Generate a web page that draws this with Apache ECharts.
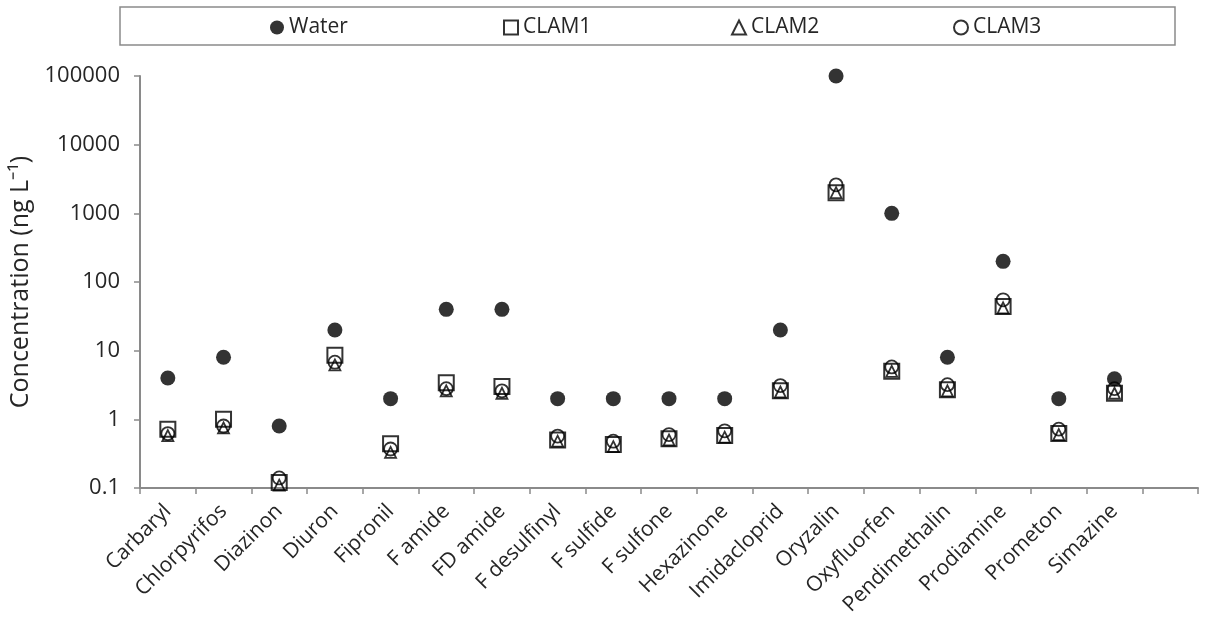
<!DOCTYPE html>
<html>
<head>
<meta charset="utf-8">
<script src="https://cdn.jsdelivr.net/npm/echarts@6/dist/echarts.min.js"></script>
<style>html,body{margin:0;padding:0;background:#fff}#c{width:1207px;height:628px}</style>
</head>
<body>
<div id="c"></div>
<script>
const categories = ['Carbaryl','Chlorpyrifos','Diazinon','Diuron','Fipronil','F amide','FD amide','F desulfinyl','F sulfide','F sulfone','Hexazinone','Imidacloprid','Oryzalin','Oxyfluorfen','Pendimethalin','Prodiamine','Prometon','Simazine',''];
const water = [4, 8, 0.8, 20, 2, 40, 40, 2, 2, 2, 2, 20, 100000, 1000, 8, 200, 2, 3.9];
const clam1 = [0.72, 1.0, 0.12, 8.6, 0.44, 3.4, 3.0, 0.5, 0.43, 0.52, 0.58, 2.6, 2000, 5.0, 2.7, 44, 0.62, 2.4];
const clam2 = [0.58, 0.75, 0.11, 6.2, 0.33, 2.6, 2.4, 0.48, 0.4, 0.5, 0.55, 2.5, 2000, 5.0, 2.6, 42, 0.6, 2.4];
const clam3 = [0.62, 0.8, 0.14, 6.8, 0.37, 2.8, 2.6, 0.57, 0.48, 0.6, 0.68, 3.1, 2600, 5.8, 3.2, 55, 0.72, 2.8];
const yTicks = [0.1, 1, 10, 100, 1000, 10000, 100000];
const seriesNames = ['Water', 'CLAM1', 'CLAM2', 'CLAM3'];

const font = 'Open Sans';
const textColor = '#262626';
const axisColor = '#8a8a8a';
const legendLefts = [265, 498, 726, 948];

const chart = echarts.init(document.getElementById('c'));
chart.setOption({
  animation: false,
  backgroundColor: '#fff',
  textStyle: { fontFamily: font },
  graphic: [{
    type: 'rect',
    shape: { x: 120, y: 7, width: 1055, height: 38 },
    style: { fill: '#fff', stroke: '#8a8a8a', lineWidth: 1.5 },
    z: 0
  }],
  legend: seriesNames.map((n, i) => ({
    top: 12,
    left: legendLefts[i],
    itemWidth: 14,
    itemHeight: 14,
    itemGap: 5,
    textStyle: { fontFamily: font, fontSize: 21, color: textColor },
    data: [n],
    z: 5
  })),
  grid: { left: 140, right: 9, top: 76, bottom: 140 },
  xAxis: {
    type: 'category',
    data: categories,
    boundaryGap: true,
    axisLine: { lineStyle: { color: axisColor, width: 2 } },
    axisTick: { show: true, alignWithLabel: false, length: 6, lineStyle: { color: axisColor, width: 1.5 } },
    axisLabel: { rotate: 45, interval: 0, fontFamily: font, fontSize: 21, color: textColor, margin: 20 },
    splitLine: { show: false }
  },
  yAxis: {
    type: 'log',
    logBase: 10,
    min: 0.1,
    max: 100000,
    name: 'Concentration (ng L⁻¹)',
    nameLocation: 'middle',
    nameGap: 93,
    nameTextStyle: { fontFamily: font, fontSize: 25, color: textColor },
    axisLine: { show: true, lineStyle: { color: axisColor, width: 2 } },
    axisTick: { show: true, length: 6, lineStyle: { color: axisColor, width: 1.5 } },
    axisLabel: {
      fontFamily: font, fontSize: 22, color: textColor, margin: 20,
      formatter: v => {
        let best = yTicks.reduce((a, b) => Math.abs(Math.log10(b) - Math.log10(v)) < Math.abs(Math.log10(a) - Math.log10(v)) ? b : a);
        return String(best);
      }
    },
    splitLine: { show: false }
  },
  series: [
    { name: 'Water', type: 'scatter', data: water, symbol: 'circle', symbolSize: 15,
      itemStyle: { color: '#000' }, z: 2 },
    { name: 'CLAM1', type: 'scatter', data: clam1, symbol: 'rect', symbolSize: 15,
      itemStyle: { color: 'rgba(255,255,255,0)', borderColor: '#000', borderWidth: 2 }, z: 3 },
    { name: 'CLAM2', type: 'scatter', data: clam2, symbol: 'triangle', symbolSize: 11,
      itemStyle: { color: 'rgba(255,255,255,0)', borderColor: '#000', borderWidth: 1.8 }, z: 4 },
    { name: 'CLAM3', type: 'scatter', data: clam3, symbol: 'circle', symbolSize: 13,
      itemStyle: { color: 'rgba(255,255,255,0)', borderColor: '#000', borderWidth: 1.8 }, z: 5 }
  ]
});
</script>
</body>
</html>
